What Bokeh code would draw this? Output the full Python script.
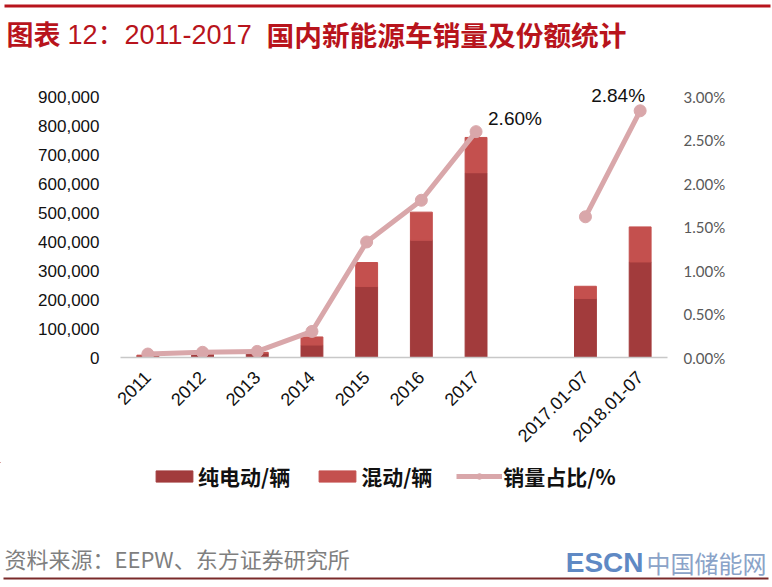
import math
from bokeh.plotting import figure
from bokeh.layouts import column
from bokeh.models import (ColumnDataSource, FactorRange, Range1d, LinearAxis, FixedTicker,
                          NumeralTickFormatter, Legend, LegendItem)
from bokeh.core.properties import value
from bokeh.embed import file_html
from bokeh.resources import INLINE

# ---------------- data ----------------
categories = ["2011", "2012", "2013", "2014", "2015", "2016", "2017", " ", "2017.01-07", "2018.01-07"]
bar_categories = ["2011", "2012", "2013", "2014", "2015", "2016", "2017", "2017.01-07", "2018.01-07"]
bev = [5000, 11000, 15000, 43000, 245000, 405000, 638000, 204000, 330000]      # 纯电动/辆
phev = [3000, 2000, 3000, 28000, 83000, 97000, 122000, 42000, 121000]          # 混动/辆
share_pct = [0.04, 0.06, 0.07, 0.30, 1.33, 1.81, 2.60, float("nan"), 1.62, 2.84]  # 销量占比/%
labelled = ["2017", "2018.01-07"]
left_ticks = [0, 100000, 200000, 300000, 400000, 500000, 600000, 700000, 800000, 900000]
right_ticks = [0.0, 0.005, 0.01, 0.015, 0.02, 0.025, 0.03]

title_parts = ["图表", "12：2011-2017", "国内新能源车销量及份额统计"]
legend_labels = ["纯电动/辆", "混动/辆", "销量占比/%"]
source_text = "资料来源：EEPW、东方证券研究所"
mark_parts = ["ESCN", "中国储能网"]

# ---------------- styles ----------------
DARK = "#A23B3C"
LIGHT = "#C4504E"
LINE = "#D9A7AA"
RED = "#B8141C"
W = 772
HA, HB, HC = 68, 394, 125


def blank_fig(h):
    f = figure(width=W, height=h, x_range=Range1d(0, W), y_range=Range1d(h, 0),
               x_axis_type=None, y_axis_type=None, output_backend="svg",
               toolbar_location=None, min_border=0, background_fill_color="white",
               border_fill_color="white")
    f.outline_line_color = None
    f.grid.visible = False
    f.frame_align = False
    return f


# ---------------- header ----------------
pa = blank_fig(HA)
pa.quad(left=[4], right=[770], top=[4], bottom=[7], fill_color=RED, line_color=None)
pa.text(x=[6], y=[33], text=[title_parts[0]], text_font=value("Noto Sans CJK SC"),
        text_font_style="bold", text_font_size="27px", text_color=RED, text_baseline="middle")
pa.text(x=[67], y=[34], text=[title_parts[1]],
        text_font=value("Liberation Sans, 'Noto Sans CJK SC'"),
        text_font_size="27px", text_color=RED, text_baseline="middle")
pa.text(x=[266], y=[33], text=[title_parts[2]], text_font=value("Noto Sans CJK SC"),
        text_font_style="bold", text_font_size="27.7px", text_color=RED, text_baseline="middle")

# ---------------- chart ----------------
B_LEFT, B_RIGHT, B_TOP, B_BOTTOM = 120, 105, 12, 105
frame_h = HB - B_TOP - B_BOTTOM
tick_span = 260.6
y_end = 900000 * frame_h / tick_span
pct_end = 0.03 * frame_h / tick_span

bar_src = ColumnDataSource(dict(x=bar_categories, bev=bev, phev=phev))
line_src = ColumnDataSource(dict(x=categories, y=[v / 100 for v in share_pct]))
idx = [categories.index(c) for c in labelled]
lab_src = ColumnDataSource(dict(
    x=labelled,
    y=[share_pct[i] / 100 for i in idx],
    t=["%.2f%%" % share_pct[i] for i in idx],
    xo=[12, -49],
    yo=[-13, -15],
))

p = figure(width=W, height=HB, x_range=FactorRange(factors=categories, range_padding=0),
           y_range=Range1d(0, y_end), output_backend="svg", toolbar_location=None,
           min_border_left=B_LEFT, min_border_right=B_RIGHT, min_border_top=B_TOP,
           min_border_bottom=B_BOTTOM, background_fill_color="white", border_fill_color="white")
p.frame_align = False
p.extra_y_ranges = {"pct": Range1d(0, pct_end)}
p.outline_line_color = None
p.xgrid.grid_line_color = None
p.ygrid.grid_line_color = None

p.xaxis.axis_line_color = "#C8C8C8"
p.xaxis.axis_line_width = 1.5
p.xaxis.major_tick_line_color = None
p.xaxis.minor_tick_line_color = None
p.xaxis.major_label_orientation = math.pi / 4
p.xaxis.major_label_text_font = "Liberation Sans"
p.xaxis.major_label_text_font_size = "18px"
p.xaxis.major_label_text_color = "#111111"
p.xaxis.major_label_standoff = 11

p.yaxis.ticker = FixedTicker(ticks=left_ticks)
p.yaxis.formatter = NumeralTickFormatter(format="0,0")
p.yaxis.axis_line_color = None
p.yaxis.major_tick_line_color = None
p.yaxis.major_tick_out = 0
p.yaxis.minor_tick_line_color = None
p.yaxis.major_label_text_font = "Liberation Sans"
p.yaxis.major_label_text_font_size = "17px"
p.yaxis.major_label_text_color = "#111111"
p.yaxis.major_label_standoff = 21

ra = LinearAxis(y_range_name="pct", ticker=FixedTicker(ticks=right_ticks),
                formatter=NumeralTickFormatter(format="0.00%"))
ra.axis_line_color = None
ra.major_tick_line_color = None
ra.major_tick_out = 0
ra.minor_tick_line_color = None
ra.major_label_text_font = "Lato"
ra.major_label_text_font_size = "15px"
ra.major_label_text_color = "#595959"
ra.major_label_standoff = 16
p.add_layout(ra, "right")

p.vbar_stack(["bev", "phev"], x="x", width=0.4, color=[DARK, LIGHT], source=bar_src)
p.line(x="x", y="y", source=line_src, y_range_name="pct", line_color=LINE, line_width=5)
p.scatter(x="x", y="y", source=line_src, y_range_name="pct", size=12,
          fill_color=LINE, line_color=LINE)
p.text(x="x", y="y", text="t", source=lab_src, y_range_name="pct", x_offset="xo", y_offset="yo",
       text_font=value("Liberation Sans"), text_font_size="19px", text_color="#111111",
       text_baseline="middle", text_align="left")

# ---------------- footer (legend + source) ----------------
pc = blank_fig(HC)
# off-screen stand-ins that carry the legend glyph styles
g1 = pc.vbar(x=[-500], top=[-500], bottom=[-501], width=1, color=DARK)
g2 = pc.vbar(x=[-500], top=[-500], bottom=[-501], width=1, color=LIGHT)
g3 = pc.line(x=[-500, -499], y=[-500, -500], line_color=LINE, line_width=5)
g4 = pc.scatter(x=[-500], y=[-500], size=12, fill_color=LINE, line_color=LINE)
legend = Legend(items=[LegendItem(label=legend_labels[0], renderers=[g1]),
                       LegendItem(label=legend_labels[1], renderers=[g2]),
                       LegendItem(label=legend_labels[2], renderers=[g3, g4])],
                orientation="horizontal", location=(151, 96), padding=0, margin=0,
                spacing=24, glyph_width=46, glyph_height=14, label_height=26,
                label_standoff=1, border_line_color=None, background_fill_alpha=0,
                label_text_font="Noto Sans CJK SC", label_text_font_style="bold",
                label_text_font_size="21px", label_text_color="#111111")
pc.add_layout(legend, "center")

pc.text(x=[4], y=[95], text=[source_text], text_font=value("Noto Sans CJK SC"),
        text_font_size="22px", text_color="#7F7F7F", text_baseline="middle")
pc.quad(left=[3], right=[768], top=[115], bottom=[117], fill_color="#7A2A2A", line_color=None)
pc.text(x=[643], y=[100], text=[mark_parts[0]], text_font=value("Liberation Sans"),
        text_font_style="bold", text_font_size="28px", text_color="#5F89C4",
        text_baseline="middle", text_align="right")
pc.text(x=[766], y=[100], text=[mark_parts[1]], text_font=value("Noto Sans CJK SC"),
        text_font_size="24px", text_color="#8AA3C8", text_baseline="middle",
        text_align="right")

layout = column(pa, p, pc, spacing=0)
open("out.html", "w").write(file_html(layout, INLINE))
